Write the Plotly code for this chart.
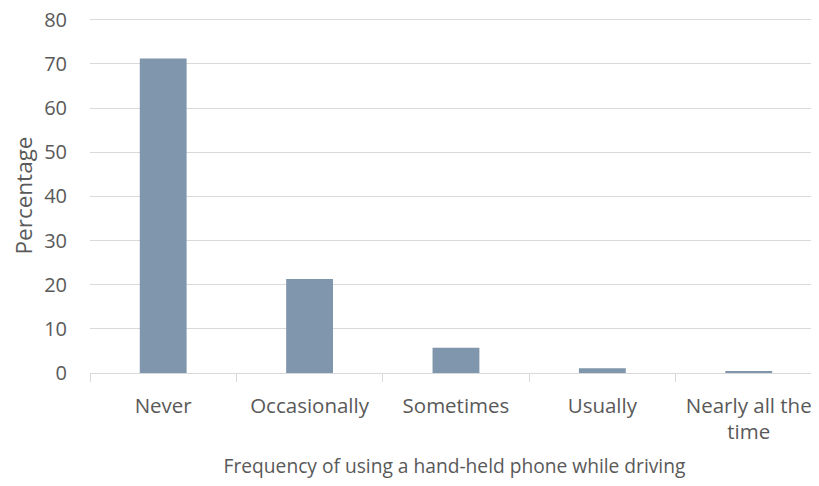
import plotly.graph_objects as go

categories = ["Never", "Occasionally", "Sometimes", "Usually", "Nearly all the<br>time"]
percentages = [71.2, 21.3, 5.7, 1.1, 0.4]
y_ticks = [0, 10, 20, 30, 40, 50, 60, 70, 80]

fig = go.Figure()
fig.add_trace(go.Bar(
    x=categories, y=percentages,
    marker=dict(color="#7f96ad", line=dict(width=0)),
    width=0.32,
))

font_color = "#595959"
# page body has an 8px margin, so the figure is a bit smaller than the window
fig.update_layout(
    width=811, height=478,
    margin=dict(l=82, r=0, t=10, b=113),
    paper_bgcolor="white", plot_bgcolor="white",
    font=dict(family="Open Sans", size=20, color=font_color),
    showlegend=False,
)
fig.update_xaxes(
    type="category", automargin=False,
    range=[-0.5, 4.48],
    tickson="boundaries", ticks="outside", ticklen=8, tickcolor="#d9d9d9",
    showline=True, linecolor="#d9d9d9", linewidth=1,
    showgrid=False, ticklabelstandoff=14,
    tickfont=dict(size=20.5, color=font_color),
    title=dict(text="Frequency of using a hand-held phone while driving",
               font=dict(size=19.2, color=font_color), standoff=15),
)
# a little headroom above 80 so its gridline is not dropped at the edge
fig.update_yaxes(
    range=[0, 80.4], tickvals=y_ticks, automargin=False,
    ticklabeloverflow="allow",
    showgrid=True, gridcolor="#d9d9d9", gridwidth=1,
    zeroline=False, showline=False,
    ticks="", ticklabelstandoff=22,
    tickfont=dict(size=20, color=font_color),
    title=dict(text="Percentage", font=dict(size=22.5, color=font_color), standoff=8),
)

fig.write_html("out.html")
